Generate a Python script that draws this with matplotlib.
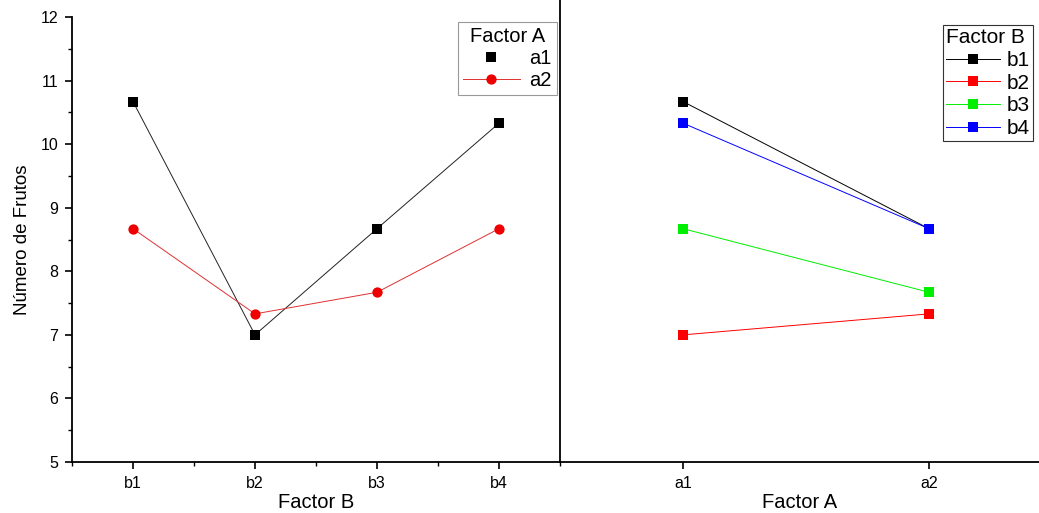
import matplotlib
matplotlib.use("Agg")
import matplotlib.pyplot as plt
from matplotlib.lines import Line2D
from matplotlib.ticker import MultipleLocator

plt.rcParams['font.family'] = ['Liberation Sans', 'DejaVu Sans']

factor_b = ["b1", "b2", "b3", "b4"]
factor_a = ["a1", "a2"]
a1_vals = [10.67, 7.0, 8.67, 10.33]
a2_vals = [8.67, 7.33, 7.67, 8.67]
b_series = {
    "b1": [10.67, 8.67],
    "b2": [7.0, 7.33],
    "b3": [8.67, 7.67],
    "b4": [10.33, 8.67],
}
b_colors = {"b1": "#000000", "b2": "#ff0000", "b3": "#00ee00", "b4": "#0000ff"}

W, H = 1039, 513
fig = plt.figure(figsize=(W / 100, H / 100), dpi=100)
x0, xm, xr = 72 / W, 560 / W, 1.0
yb, yt = (H - 462) / H, (H - 17) / H
ax1 = fig.add_axes([x0, yb, xm - x0, yt - yb])
ax2 = fig.add_axes([xm, yb, xr - xm, yt - yb])

MS = 6.8
# Left panel
xs = list(range(1, len(factor_b) + 1))
ax1.plot(xs, a1_vals, color="#222222", lw=0.7, marker="s", ms=MS, mew=0, mfc="black")
ax1.plot(xs, a2_vals, color="#e03030", lw=0.7, marker="o", ms=MS + 0.6, mew=0, mfc="#ee0000")
ax1.set_xlim(0.5, 4.5)
ax1.set_ylim(5, 12)
ax1.set_xticks(xs)
ax1.set_xticklabels(factor_b)
ax1.xaxis.set_minor_locator(MultipleLocator(0.5))
ax1.yaxis.set_major_locator(MultipleLocator(1))
ax1.yaxis.set_minor_locator(MultipleLocator(0.5))
for s in ["top", "right"]:
    ax1.spines[s].set_visible(False)
ax1.spines["left"].set_linewidth(1.3)
ax1.spines["bottom"].set_linewidth(1.3)
ax1.tick_params(which="major", direction="out", length=5, width=1.2, labelsize=11.5, colors="black", pad=5)
ax1.tick_params(which="minor", direction="out", length=3, width=1.0)
ax1.set_xlabel("Factor B", fontsize=14.5, labelpad=1.5)
ax1.set_ylabel("Número de Frutos", fontsize=13.5, labelpad=7)

h1 = [Line2D([], [], color="black", ls="none", marker="s", ms=MS, mew=0),
      Line2D([], [], color="#e03030", lw=0.7, marker="o", ms=MS + 0.6, mfc="#ee0000", mew=0)]
leg1 = ax1.legend(h1, factor_a, title="Factor A", loc="upper right",
                  bbox_to_anchor=(557 / W, (H - 22) / H), bbox_transform=fig.transFigure,
                  fontsize=14.5, title_fontsize=14.5, fancybox=False, edgecolor="#999999",
                  framealpha=1, handlelength=2.8, borderpad=0.25, labelspacing=0.15,
                  handletextpad=0.5, borderaxespad=0)
leg1.get_frame().set_linewidth(0.8)

# Right panel
xa = list(range(1, len(factor_a) + 1))
for name, vals in b_series.items():
    c = b_colors[name]
    ax2.plot(xa, vals, color=c, lw=0.7, marker="s", ms=MS, mew=0, mfc=c, label=name)
ax2.set_xlim(0.5, 0.5 + 479 / 246)
ax2.set_ylim(5, 12)
ax2.set_xticks(xa)
ax2.set_xticklabels(factor_a)
ax2.set_yticks([])
for s in ["top", "right", "left"]:
    ax2.spines[s].set_visible(False)
ax2.spines["bottom"].set_linewidth(1.3)
ax2.tick_params(which="major", direction="out", length=5, width=1.2, labelsize=11.5, pad=5)
ax2.set_xlabel("Factor A", fontsize=14.5, labelpad=1.5)
leg2 = ax2.legend(title="Factor B", loc="upper left",
                  bbox_to_anchor=(943 / W, (H - 25) / H), bbox_transform=fig.transFigure,
                  fontsize=15, title_fontsize=15, fancybox=False, edgecolor="#333333",
                  framealpha=1, handlelength=2.6, borderpad=0.15, labelspacing=0.18,
                  handletextpad=0.3, borderaxespad=0, numpoints=1)
leg2._legend_box.align = "left"
leg2.get_frame().set_linewidth(0.8)

# Divider line spanning to top
fig.add_artist(Line2D([xm, xm], [yb, 1.0], transform=fig.transFigure, color="black", lw=1.3))

fig.savefig("out.png", dpi=100)
